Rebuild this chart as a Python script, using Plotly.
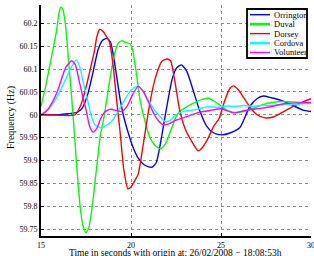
import plotly.graph_objects as go

# ---------------- data ----------------
names = ["Orrington", "Duval", "Dorsey", "Cordova", "Volunteer"]
colors = ["#0000FF", "#00FF00", "#FF0000", "#00FFFF", "#FF00FF"]

orrington_t = [15, 16, 16.5, 17, 17.3, 17.6, 17.9, 18.17, 18.4, 18.65, 18.85, 19.0, 19.2, 19.4,
               19.6, 19.85, 20.1, 20.4, 20.75, 21.15, 21.4, 21.6, 22.0, 22.3, 22.55, 22.8, 23.1,
               23.4, 23.8, 24.2, 24.6, 25.05, 25.5, 26.05, 26.6, 27.0, 27.35, 27.8, 28.5, 29.0,
               29.55, 30]
orrington_f = [60.0, 60.0, 60.002, 60.005, 60.015, 60.045, 60.095, 60.142, 60.162, 60.167, 60.16,
               60.135, 60.085, 60.033, 59.995, 59.96, 59.93, 59.905, 59.89, 59.885, 59.895, 59.93,
               60.02, 60.08, 60.103, 60.109, 60.095, 60.06, 60.011, 59.975, 59.96, 59.956, 59.96,
               59.972, 60.018, 60.035, 60.041, 60.037, 60.029, 60.02, 60.01, 60.007]

duval_t = [15, 15.25, 15.48, 15.7, 15.85, 16.0, 16.1, 16.2, 16.35, 16.55, 16.78, 17.0, 17.2, 17.35,
           17.5, 17.65, 17.85, 18.05, 18.3, 18.5, 18.7, 18.9, 19.1, 19.3, 19.5, 19.7, 19.95, 20.1,
           20.3, 20.5, 20.75, 21.05, 21.35, 21.65, 21.9, 22.2, 22.5, 22.7, 23.0, 23.5, 24.0, 24.3,
           24.6, 24.9, 25.2, 25.6, 26.0, 26.5, 27.0, 27.6, 28.3, 29.0, 30]
duval_f = [60.018, 60.06, 60.105, 60.15, 60.18, 60.222, 60.235, 60.232, 60.2, 60.11, 60.0, 59.88,
           59.79, 59.755, 59.742, 59.752, 59.8, 59.87, 59.955, 59.995, 60.045, 60.095, 60.135,
           60.157, 60.162, 60.158, 60.155, 60.14, 60.09, 60.033, 59.99, 59.95, 59.932, 59.926,
           59.935, 59.965, 59.995, 60.007, 60.015, 60.026, 60.034, 60.036, 60.03, 60.022, 60.013,
           60.006, 60.005, 60.01, 60.017, 60.025, 60.029, 60.028, 60.026]

dorsey_t = [15, 16, 16.5, 16.9, 17.2, 17.4, 17.6, 17.8, 17.98, 18.1, 18.26, 18.45, 18.65, 18.8,
            19.0, 19.2, 19.4, 19.6, 19.83, 20.0, 20.2, 20.4, 20.7, 21.05, 21.35, 21.7, 22.0, 22.2,
            22.45, 22.7, 23.0, 23.4, 23.74, 24.0, 24.3, 24.6, 24.9, 25.2, 25.5, 25.7, 25.95, 26.3,
            26.7, 27.0, 27.45, 27.9, 28.4, 29.0, 29.5, 30]
dorsey_f = [60.0, 59.999, 59.998, 60.0, 60.02, 60.045, 60.076, 60.11, 60.142, 60.17, 60.187,
            60.182, 60.17, 60.16, 60.11, 60.033, 59.96, 59.88, 59.838, 59.842, 59.855, 59.87,
            59.94, 60.026, 60.08, 60.116, 60.122, 60.118, 60.07, 60.011, 59.97, 59.94, 59.921,
            59.93, 59.95, 59.975, 59.992, 60.03, 60.058, 60.063, 60.055, 60.035, 60.012, 60.0,
            59.993, 59.995, 60.005, 60.018, 60.027, 60.035]

cordova_t = [15, 15.4, 15.75, 16.1, 16.4, 16.7, 16.96, 17.15, 17.4, 17.6, 17.8, 18.0, 18.35, 18.7,
             19.0, 19.4, 19.76, 20.05, 20.35, 20.6, 20.8, 21.05, 21.3, 21.6, 21.9, 22.2, 22.5,
             22.7, 23.0, 23.4, 23.8, 24.3, 24.8, 25.3, 25.8, 26.3, 26.8, 27.3, 27.8, 28.3, 29.0,
             29.5, 30]
cordova_f = [60.0, 60.011, 60.03, 60.055, 60.08, 60.105, 60.12, 60.105, 60.062, 60.03, 59.996,
             59.978, 59.971, 59.978, 59.989, 60.015, 60.04, 60.055, 60.062, 60.055, 60.042,
             60.026, 60.01, 59.996, 59.985, 59.988, 60.0, 60.004, 60.008, 60.01, 60.013, 60.018,
             60.016, 60.019, 60.018, 60.02, 60.018, 60.021, 60.02, 60.022, 60.022, 60.024, 60.026]

volunteer_t = [15, 15.3, 15.6, 15.95, 16.2, 16.4, 16.7, 16.9, 17.15, 17.35, 17.5, 17.7, 17.9, 18.1,
               18.3, 18.5, 18.7, 18.9, 19.2, 19.5, 19.8, 20.1, 20.4, 20.7, 21.0, 21.3, 21.5, 21.8,
               22.1, 22.5, 23.1, 23.6, 24.0, 24.5, 25.0, 25.4, 25.7, 26.2, 26.6, 27.2, 27.8, 28.5,
               29.3, 30]
volunteer_f = [60.0, 60.008, 60.025, 60.055, 60.085, 60.105, 60.118, 60.11, 60.069, 60.035,
               60.011, 59.975, 59.962, 59.97, 59.99, 60.004, 60.01, 60.012, 60.009, 60.007, 60.02,
               60.045, 60.062, 60.05, 60.025, 60.0, 59.988, 59.978, 59.98, 59.988, 59.996, 60.003,
               60.007, 60.01, 60.013, 60.008, 60.004, 60.008, 60.011, 60.014, 60.018, 60.024,
               60.026, 60.027]

x_ticks = [15, 20, 25, 30]
y_ticks = [59.75, 59.8, 59.85, 59.9, 59.95, 60.0, 60.05, 60.1, 60.15, 60.2]
y_ticklabels = ["59.75", "59.8", "59.85", "59.9", "59.95", "60", "60.05", "60.1", "60.15", "60.2"]
x_title = "Time in seconds with origin at: 26/02/2008 \u2212 18:08:53h"
y_title = "Frequency (Hz)"

series_t = [orrington_t, duval_t, dorsey_t, cordova_t, volunteer_t]
series_f = [orrington_f, duval_f, dorsey_f, cordova_f, volunteer_f]

# ---------------- figure ----------------
FONT = "Liberation Serif, Times New Roman, serif"
fig = go.Figure()
for name, col, t, f in zip(names, colors, series_t, series_f):
    fig.add_trace(go.Scatter(x=t, y=f, mode="lines", name=name, showlegend=False,
                             line=dict(color=col, width=1.4, shape="spline", smoothing=0.6)))

W, H = 314, 256
ml, mr, mt, mb = 41, 3, 5, 20
pw, ph = W - ml - mr, H - mt - mb

def px(xp):
    return (xp - ml) / pw

def py(yp):
    return (H - mb - yp) / ph

shapes = []
annotations = []
# legend box
shapes.append(dict(type="rect", xref="paper", yref="paper",
                   x0=px(247), x1=px(307), y0=py(58), y1=py(9),
                   line=dict(color="black", width=1.8), fillcolor="white", layer="above"))
sample_w = [1.4, 2.6, 1.4, 2.6, 1.4]
for i, (name, col) in enumerate(zip(names, colors)):
    yc = 14.7 + i * 9.45
    shapes.append(dict(type="line", xref="paper", yref="paper",
                       x0=px(250), x1=px(270), y0=py(yc), y1=py(yc),
                       line=dict(color=col, width=sample_w[i]), layer="above"))
    annotations.append(dict(xref="paper", yref="paper", x=px(271.5), y=py(yc),
                            xanchor="left", yanchor="middle", text=name, showarrow=False,
                            font=dict(family=FONT, size=8.5, color="black")))

annotations.append(dict(xref="paper", yref="paper", x=px(175), y=py(253.3),
                        xanchor="center", yanchor="middle", text=x_title, showarrow=False,
                        font=dict(family=FONT, size=9.5, color="black")))
annotations.append(dict(xref="paper", yref="paper", x=px(11), y=py(118),
                        xanchor="center", yanchor="middle", text=y_title, showarrow=False,
                        textangle=-90, font=dict(family=FONT, size=10, color="black")))

axis_common = dict(showgrid=True, gridcolor="#8a8a8a", griddash="dot", gridwidth=1,
                   showline=True, linecolor="black", linewidth=2, ticks="inside", ticklen=3,
                   tickcolor="black", tickwidth=1, zeroline=False, mirror=False, automargin=False,
                   ticklabeloverflow="allow",
                   tickfont=dict(family=FONT, size=8, color="black"))

fig.update_layout(
    width=W, height=H,
    margin=dict(l=ml, r=mr, t=mt, b=mb, pad=0),
    paper_bgcolor="white", plot_bgcolor="white",
    xaxis=dict(range=[15, 30], tickvals=x_ticks, ticktext=[str(v) for v in x_ticks], **axis_common),
    yaxis=dict(range=[59.7347, 60.240], tickvals=y_ticks, ticktext=y_ticklabels, **axis_common),
    shapes=shapes, annotations=annotations, showlegend=False,
)

fig.write_html("out.html", config={"displayModeBar": False},
               post_script="document.body.style.margin='0px';document.body.style.overflow='hidden';")
